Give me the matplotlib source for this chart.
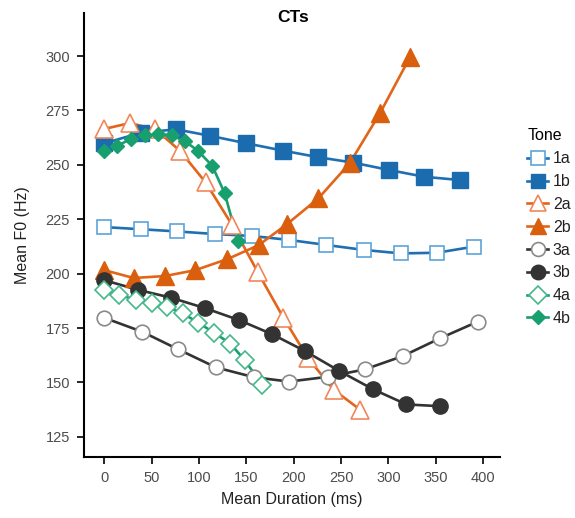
import matplotlib
matplotlib.use("Agg")
import matplotlib.pyplot as plt
from matplotlib.lines import Line2D

plt.rcParams['font.family'] = ['Liberation Sans', 'DejaVu Sans']

# ---- data ----
tones = ["1a", "1b", "2a", "2b", "3a", "3b", "4a", "4b"]

dur_1a = [0, 39, 77, 117, 156, 195, 234, 274, 313, 351, 390]
f0_1a = [221.4, 220.4, 219.4, 218.2, 217.3, 215.5, 213.2, 210.9, 209.3, 209.6, 212.4]

dur_1b = [0, 39, 76, 112, 150, 189, 226, 263, 301, 338, 376]
f0_1b = [259.9, 264.8, 266.3, 263.3, 259.9, 256.5, 253.5, 251.0, 247.6, 244.5, 243.0]

dur_2a = [0, 27, 54, 80, 107, 135, 162, 189, 215, 242, 270]
f0_2a = [266.5, 269.2, 266.3, 256.4, 241.9, 222.3, 200.7, 179.8, 161.2, 146.7, 137.5]

dur_2b = [0, 31, 64, 96, 130, 163, 193, 226, 259, 291, 323]
f0_2b = [201.6, 198.0, 198.9, 201.6, 206.7, 213.1, 222.8, 234.6, 250.7, 273.7, 299.7]

dur_3a = [0, 40, 78, 118, 158, 195, 236, 275, 315, 354, 394]
f0_3a = [179.7, 173.3, 165.2, 156.9, 152.4, 150.4, 152.6, 156.0, 162.1, 170.2, 177.9]

dur_3b = [0, 36, 70, 106, 142, 177, 212, 248, 284, 319, 354]
f0_3b = [197.0, 192.5, 189.0, 184.2, 178.7, 172.2, 164.4, 155.3, 146.8, 139.9, 139.1]

dur_4a = [0, 16, 33, 50, 66, 83, 99, 116, 133, 148, 167]
f0_4a = [192.4, 190.1, 188.1, 186.3, 184.8, 181.7, 177.5, 172.8, 167.9, 160.3, 148.8]

dur_4b = [0, 13, 28, 43, 57, 71, 85, 99, 114, 127, 141]
f0_4b = [256.4, 258.7, 261.8, 263.9, 264.2, 263.5, 260.9, 256.4, 249.5, 237.0, 215.1]

xticks = [0, 50, 100, 150, 200, 250, 300, 350, 400]
yticks = [125, 150, 175, 200, 225, 250, 275, 300]

series = [
    (dur_1a, f0_1a), (dur_1b, f0_1b), (dur_2a, f0_2a), (dur_2b, f0_2b),
    (dur_3a, f0_3a), (dur_3b, f0_3b), (dur_4a, f0_4a), (dur_4b, f0_4b),
]

# styles: (line colour, marker, marker face, marker edge, marker size, edge width)
styles = [
    ("#1f6fb2", "s", "white", "#5ea3d8", 10.5, 1.2),
    ("#1f6fb2", "s", "#1a6cae", "#1a6cae", 11, 1.0),
    ("#e2651a", "^", "white", "#f0875a", 12.5, 1.2),
    ("#e2651a", "^", "#d95f0e", "#d95f0e", 12.5, 1.0),
    ("#333333", "o", "white", "#8a8a8a", 10.5, 1.2),
    ("#333333", "o", "#333333", "#333333", 11, 1.0),
    ("#1a9e6e", "D", "white", "#45b88a", 9.5, 1.2),
    ("#1a9e6e", "D", "#17a06e", "#17a06e", 7, 1.0),
]

fig = plt.figure(figsize=(5.75, 5.18), dpi=100)
ax = fig.add_axes([0.146, 0.118, 0.724, 0.857])

for (x, y), (lc, mk, mf, me, ms, mew) in zip(series, styles):
    ax.plot(x, y, color=lc, lw=1.9, zorder=2, solid_capstyle="butt")
for (x, y), (lc, mk, mf, me, ms, mew) in zip(series, styles):
    ax.plot(x, y, ls="none", marker=mk, markerfacecolor=mf, markeredgecolor=me,
            markersize=ms, markeredgewidth=mew, zorder=3)

ax.set_xlim(-21.5, 418)
ax.set_ylim(115.8, 319.8)
ax.set_xticks(xticks)
ax.set_yticks(yticks)
ax.spines["top"].set_visible(False)
ax.spines["right"].set_visible(False)
for s in ("left", "bottom"):
    ax.spines[s].set_linewidth(1.5)
    ax.spines[s].set_color("black")
ax.tick_params(axis="both", direction="out", length=5, width=1.2, color="black",
               labelsize=10.5, labelcolor="#4d4d4d", pad=5)

ax.set_xlabel("Mean Duration (ms)", fontsize=11.5, color="#222222", labelpad=5)
ax.set_ylabel("Mean F0 (Hz)", fontsize=11.5, color="#222222", labelpad=11)
fig.text(0.51, 1 - 18 / 518, "CTs", fontsize=12.5, fontweight="bold",
         ha="center", va="center", color="black")

handles = []
for t, (lc, mk, mf, me, ms, mew) in zip(tones, styles):
    handles.append(Line2D([0], [0], color=lc, lw=1.9, marker=mk, markerfacecolor=mf,
                          markeredgecolor=me, markersize=ms * 0.95, markeredgewidth=mew))
leg = fig.legend(handles=handles, labels=tones, title="Tone", loc="upper left",
                 bbox_to_anchor=(0.917, 0.752), frameon=False, fontsize=11.5,
                 title_fontsize=11.5, handlelength=1.3, handletextpad=0.3,
                 labelspacing=0.49, borderaxespad=0, borderpad=0)
leg._legend_box.align = "left"
for txt in leg.get_texts():
    txt.set_color("#222222")

fig.savefig("out.png", dpi=100)
